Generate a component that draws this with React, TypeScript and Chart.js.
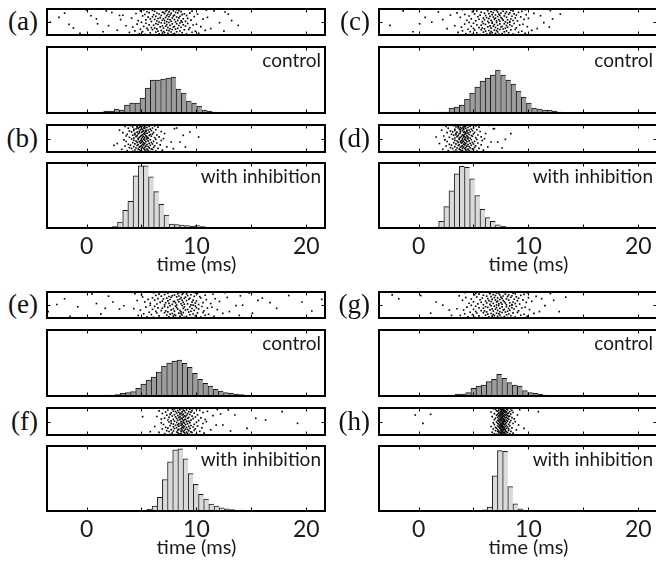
import React, { useEffect, useRef } from "react";
import { Chart, registerables } from "chart.js";
Chart.register(...registerables);

// ---------- axes ----------
const X_MIN = -3.6;
const X_MAX = 21.7;
const MINOR_TICKS = [0, 5, 10, 15, 20];
const TICK_LABELS = [0, 10, 20];
const X_TITLE = "time (ms)";
const BIN_WIDTH = 0.47;
const HIST_MAX = 66;
const RASTER_MAX = 162;

// ---------- histograms (left edge of first bin, bin heights) ----------
const HIST_A_START = -3.13;
const HIST_A = [0.5, 0.5, 0.5, 0, 0.5, 0.5, 0.5, 0, 0.5, 1, 2, 2, 4, 3, 8, 10, 10, 15, 25, 33, 33, 34, 35, 36, 24, 20, 12, 10, 7, 3, 2, 1, 0.5, 0, 0, 0.5, 0.5, 0, 0, 0.5, 0.5];
const HIST_B_START = 1.88;
const HIST_B = [0.5, 1.5, 6, 18, 27, 53, 63, 63, 52, 37, 24, 13, 4, 3.5, 3, 2.5, 2, 2.5, 1.5, 1, 0.5, 0.5, 0.3];
const HIST_C_START = 0.89;
const HIST_C = [0.5, 0.5, 1, 1, 5, 6, 8, 14, 20, 26, 32, 35, 38, 43, 38, 33, 29, 22, 16, 10, 5, 4, 3, 3, 2, 1, 0.5, 0.5, 0.5];
const HIST_D_START = 1.36;
const HIST_D = [1, 6.7, 21.7, 37.7, 55, 62.7, 61.7, 50, 33, 19, 10.7, 6.7, 3.3, 1.7, 1, 0.5];
const HIST_E_START = 0.24;
const HIST_E = [0.5, 0.5, 0.5, 1, 1, 1.5, 2.7, 3.3, 4.3, 7.7, 12, 16, 19, 24, 30, 33, 35, 36, 32.7, 28.7, 22.7, 16.7, 12.7, 10, 6.7, 5, 3.3, 2.7, 2, 1.5, 1, 1, 0.5, 0.5, 0.5];
const HIST_F_START = 5.49;
const HIST_F = [1.7, 5, 14, 32, 50, 62, 63, 53, 38, 27, 17, 12, 7, 5, 3.3, 2.3, 1.5, 1, 1, 0.7, 0.5, 0.5, 0.5];
const HIST_G_START = -1.35;
const HIST_G = [0.5, 0.5, 0, 0.5, 0.5, 0.5, 0.5, 0.5, 1, 1, 2, 2, 3.3, 7.7, 10, 11, 14.3, 16.7, 21.7, 17.7, 13.3, 11, 10, 5.3, 3.3, 2.7, 1.7, 1, 0.5, 0.5, 0, 0.5, 0.5, 0.5];
const HIST_H_START = 5.77;
const HIST_H = [1.3, 4, 35.7, 61.3, 60.7, 24.7, 7.3, 2.3, 0.7];

// ---------- rasters: spike time per trial (trial = index + 1), plus stray spikes [time, trial] ----------
const RASTER_A = [7.2, 6.1, 8.4, 5.3, 7.9, 9.1, 6.6, 4.8, 8.0, 7.4, 10.2, 6.9, 5.8, 8.7, 7.1, 3.9, 9.6, 6.3, 7.7, 8.2, 5.1, 7.0, 9.9, 6.5, 8.5, 4.4, 7.5, 6.8, 10.8, 7.3, 5.6, 8.9, 6.0, 7.8, 9.3, 4.9, 8.1, 6.4, 7.6, 11.3, 5.5, 8.3, 7.0, 6.2, 9.4, 5.9, 7.4, 8.6, 4.2, 7.9, 6.7, 10.4, 8.0, 5.2, 7.2, 9.0, 6.9, 3.6, 8.4, 7.6, 6.1, 9.7, 5.7, 8.8, 7.3, 6.5, 10.0, 4.6, 7.8, 8.2, 6.3, 9.2, 5.4, 7.1, 8.5, 6.8, 12.1, 7.5, 5.0, 8.7,
  6.6, 8.1, 7.3, 5.9, 9.0, 7.7, 6.4, 8.6, 4.7, 7.1, 8.3, 6.9, 9.5, 5.4, 7.6, 8.0, 6.2, 7.4, 10.6, 5.8, 8.8, 7.0, 6.5, 9.2, 4.1, 7.8, 8.4, 6.7, 7.2, 11.0, 5.6, 8.2, 6.0, 7.5, 9.8, 6.3, 8.5, 7.9, 5.1, 7.3, 9.1, 6.8, 3.3, 8.0, 7.6, 6.1, 8.7, 5.3, 7.4, 10.1, 6.6, 8.9, 7.1, 4.5, 7.7, 9.4, 6.4, 8.3, 5.7, 7.0, 8.1, 6.9, 12.6, 7.5, 5.5, 8.6, 7.2, 6.2, 9.6, 4.9, 7.9, 8.4, 6.0, 7.3, 10.9, 5.2, 8.2, 7.6, 6.7, 9.3];
const EXTRA_A = [[-3.3, 80], [-1.2, 44], [0.4, 120], [1.5, 20], [2.3, 140], [-2.5, 110], [1.0, 70], [2.8, 30], [12.9, 130], [13.8, 60], [11.6, 150], [3.1, 96], [0.0, 156], [-0.6, 10], [12.5, 24], [-2.0, 136], [0.9, 100], [2.0, 58], [1.8, 150], [13.2, 90], [3.0, 122], [-1.6, 66]];
const RASTER_B = [5.1, 4.6, 5.8, 4.2, 5.4, 6.3, 4.9, 3.7, 5.6, 5.0, 6.9, 4.4, 5.3, 4.8, 6.0, 3.2, 5.5, 4.7, 5.9, 5.2, 4.1, 6.5, 5.0, 4.5, 5.7, 3.9, 5.3, 6.1, 4.8, 5.1, 7.3, 4.3, 5.6, 4.9, 5.4, 3.5, 6.2, 5.0, 4.6, 5.8, 4.0, 5.2, 6.7, 4.7, 5.5, 3.8, 5.1, 6.0, 4.4, 5.3, 2.8, 5.7, 4.9, 6.4, 5.2, 4.2, 5.9, 4.6, 5.0, 7.7, 4.8, 5.4, 3.6, 6.1, 5.1, 4.5, 5.6, 4.9, 6.8, 4.3, 5.3, 5.0, 3.4, 5.8, 4.7, 6.3, 5.2, 4.1, 5.5, 7.0,
  5.0, 4.7, 5.6, 4.3, 5.3, 6.2, 4.8, 3.9, 5.5, 5.1, 6.6, 4.5, 5.2, 4.9, 5.9, 3.6, 5.4, 4.6, 5.7, 5.0, 4.2, 6.4, 5.1, 4.4, 5.8, 3.7, 5.3, 6.0, 4.7, 5.2, 7.1, 4.4, 5.5, 4.8, 5.3, 3.3, 6.1, 5.0, 4.6, 5.7, 4.1, 5.1, 6.8, 4.8, 5.4, 3.9, 5.2, 5.9, 4.3, 5.4, 3.0, 5.6, 4.9, 6.3, 5.1, 4.3, 5.8, 4.5, 5.0, 8.0, 4.7, 5.3, 3.8, 6.0, 5.2, 4.6, 5.5, 4.8, 6.5, 4.2, 5.3, 4.9, 3.5, 5.7, 4.6, 6.2, 5.1, 4.0, 5.4, 6.9];
const EXTRA_B = [[8.5, 60], [9.4, 120], [10.2, 90], [7.9, 20], [8.2, 144], [2.5, 40], [9.0, 30], [8.8, 100]];
const RASTER_C = [6.8, 5.6, 7.9, 4.9, 7.3, 8.6, 6.2, 4.3, 7.6, 7.0, 9.7, 6.5, 5.3, 8.2, 6.7, 3.6, 9.1, 5.9, 7.2, 7.8, 4.7, 6.6, 9.4, 6.1, 8.0, 4.0, 7.1, 6.4, 10.3, 6.9, 5.1, 8.4, 5.7, 7.4, 8.8, 4.5, 7.7, 6.0, 7.2, 10.8, 5.0, 7.9, 6.6, 5.8, 8.9, 5.5, 7.0, 8.1, 3.9, 7.5, 6.3, 9.9, 7.6, 4.8, 6.8, 8.5, 6.5, 3.3, 8.0, 7.2, 5.7, 9.2, 5.3, 8.3, 6.9, 6.1, 9.5, 4.2, 7.4, 7.8, 5.9, 8.7, 5.0, 6.7, 8.1, 6.4, 11.4, 7.1, 4.6, 8.3,
  6.7, 7.9, 5.8, 8.3, 6.3, 7.4, 9.0, 5.2, 7.1, 8.6, 6.6, 4.4, 7.7, 6.0, 8.1, 7.3, 9.6, 5.5, 6.9, 8.4, 4.8, 7.6, 6.4, 10.0, 7.0, 5.9, 8.8, 6.2, 7.5, 3.8, 8.0, 6.8, 9.3, 5.4, 7.2, 6.5, 8.5, 4.6, 7.8, 11.1, 6.1, 7.4, 8.9, 5.6, 7.0, 9.8, 6.7, 4.2, 8.2, 7.3, 5.1, 8.7, 6.4, 7.9, 10.5, 6.0, 7.5, 3.5, 8.3, 6.8, 9.1, 5.7, 7.2, 8.0, 4.9, 6.6, 9.4, 7.7, 5.3, 8.6, 6.3, 12.0, 7.1, 5.0, 8.4, 6.9, 9.7, 4.0, 7.6, 6.2];
const EXTRA_C = [[-2.6, 60], [-0.5, 20], [0.6, 110], [1.8, 144], [2.6, 40], [1.2, 80], [12.2, 100], [12.9, 130], [11.9, 50], [2.9, 124], [-1.4, 150], [0.1, 70], [2.2, 96]];
const RASTER_D = [4.1, 3.6, 4.8, 3.2, 4.4, 5.3, 3.9, 2.7, 4.6, 4.0, 5.9, 3.4, 4.3, 3.8, 5.0, 2.2, 4.5, 3.7, 4.9, 4.2, 3.1, 5.5, 4.0, 3.5, 4.7, 2.9, 4.3, 5.1, 3.8, 4.1, 6.3, 3.3, 4.6, 3.9, 4.4, 2.5, 5.2, 4.0, 3.6, 4.8, 3.0, 4.2, 5.7, 3.7, 4.5, 2.8, 4.1, 5.0, 3.4, 4.3, 1.9, 4.7, 3.9, 5.4, 4.2, 3.2, 4.9, 3.6, 4.0, 6.6, 3.8, 4.4, 2.6, 5.1, 4.1, 3.5, 4.6, 3.9, 5.8, 3.3, 4.3, 4.0, 2.4, 4.8, 3.7, 5.3, 4.2, 3.1, 4.5, 6.0,
  4.0, 3.7, 4.7, 3.3, 4.3, 5.2, 3.8, 2.8, 4.5, 4.1, 5.7, 3.5, 4.2, 3.9, 4.9, 2.3, 4.4, 3.6, 4.8, 4.1, 3.2, 5.4, 4.0, 3.4, 4.6, 3.0, 4.2, 5.0, 3.7, 4.3, 6.1, 3.4, 4.5, 3.8, 4.3, 2.6, 5.1, 4.1, 3.5, 4.7, 3.1, 4.2, 5.6, 3.8, 4.4, 2.9, 4.0, 4.9, 3.3, 4.4, 2.1, 4.6, 3.8, 5.3, 4.1, 3.3, 4.8, 3.7, 4.1, 6.8, 3.9, 4.3, 2.7, 5.0, 4.0, 3.6, 4.5, 3.8, 5.5, 3.4, 4.2, 4.1, 2.5, 4.7, 3.6, 5.2, 4.3, 3.2, 4.6, 6.4];
const EXTRA_D = [[7.2, 60], [8.4, 110], [6.9, 140], [7.6, 24], [1.6, 90], [7.9, 76]];
const RASTER_E = [8.3, 7.0, 9.6, 6.1, 8.9, 10.4, 7.5, 5.5, 9.1, 8.5, 11.6, 7.9, 6.6, 9.9, 8.1, 4.7, 10.8, 7.3, 8.7, 9.4, 5.9, 8.0, 11.1, 7.6, 9.7, 5.2, 8.6, 7.8, 12.4, 8.4, 6.4, 10.1, 7.1, 8.8, 10.6, 5.7, 9.3, 7.4, 8.6, 13.0, 6.3, 9.5, 8.0, 7.2, 10.7, 6.8, 8.5, 9.8, 4.9, 9.0, 7.7, 11.9, 9.2, 6.0, 8.3, 10.2, 7.9, 4.3, 9.6, 8.8, 6.9, 11.0, 6.5, 10.0, 8.2, 7.4, 11.4, 5.4, 8.9, 9.4, 7.1, 10.5, 6.2, 8.1, 9.9, 7.6, 13.6, 8.7, 5.8, 9.7,
  8.2, 9.5, 7.1, 10.2, 7.8, 8.9, 6.4, 9.2, 8.6, 11.3, 7.5, 5.8, 9.9, 8.1, 7.2, 10.6, 6.7, 8.8, 9.6, 5.3, 8.4, 7.9, 12.1, 8.0, 6.9, 10.0, 7.4, 9.1, 4.6, 8.7, 9.7, 6.2, 8.3, 10.9, 7.6, 5.6, 9.3, 8.5, 7.0, 11.7, 6.5, 8.9, 9.4, 7.3, 10.4, 6.0, 8.6, 12.8, 7.7, 9.0, 5.1, 8.2, 10.3, 7.5, 9.8, 6.8, 8.4, 14.0, 7.8, 9.2, 6.3, 10.8, 8.0, 5.0, 9.5, 7.1, 8.7, 11.5, 6.6, 9.1, 8.3, 4.4, 10.1, 7.4, 8.8, 9.9, 6.1, 12.6, 8.5, 7.2];
const EXTRA_E = [[-3.5, 40], [-2.0, 120], [-0.8, 70], [0.5, 150], [1.3, 24], [2.4, 100], [3.0, 56], [2.0, 136], [-1.5, 10], [0.9, 90], [14.2, 80], [15.1, 30], [16.0, 124], [17.3, 60], [18.4, 140], [19.6, 100], [20.5, 44], [21.4, 116], [14.8, 156], [13.9, 16], [16.7, 96], [3.4, 76], [-2.7, 84], [1.7, 60], [15.6, 110]];
const RASTER_F = [8.7, 8.1, 9.4, 7.6, 9.0, 10.0, 8.4, 7.1, 9.2, 8.6, 10.7, 7.8, 8.9, 8.3, 9.6, 6.6, 9.1, 8.2, 9.5, 8.8, 7.5, 10.3, 8.6, 7.9, 9.3, 7.3, 8.9, 9.8, 8.3, 8.7, 11.3, 7.7, 9.2, 8.4, 9.0, 6.9, 9.9, 8.6, 8.0, 9.4, 7.4, 8.8, 10.5, 8.2, 9.1, 7.2, 8.7, 9.7, 7.9, 8.9, 6.2, 9.3, 8.4, 10.1, 8.8, 7.6, 9.5, 8.1, 8.6, 11.8, 8.3, 9.0, 7.0, 9.8, 8.7, 7.9, 9.2, 8.4, 10.6, 7.7, 8.9, 8.6, 6.8, 9.4, 8.2, 10.0, 8.8, 7.5, 9.1, 10.9,
  8.6, 9.3, 8.0, 9.1, 7.7, 8.8, 10.2, 8.3, 9.5, 7.4, 8.9, 8.5, 10.8, 7.9, 9.0, 6.8, 8.7, 9.7, 8.2, 9.2, 7.1, 8.6, 10.4, 8.4, 9.3, 7.5, 8.8, 9.9, 8.1, 9.0, 6.4, 8.5, 9.6, 7.8, 8.9, 11.5, 8.3, 9.1, 7.3, 8.7, 10.1, 8.0, 9.4, 7.6, 8.8, 12.2, 8.5, 9.2, 6.9, 8.6, 9.8, 8.2, 7.7, 9.0, 10.6, 8.4, 9.5, 7.2, 8.7, 9.3, 8.1, 11.0, 7.9, 8.9, 6.6, 9.6, 8.3, 10.3, 8.8, 7.4, 9.1, 8.5, 11.9, 7.8, 9.4, 8.0, 10.0, 8.6, 7.0, 9.7];
const EXTRA_F = [[12.4, 60], [13.5, 120], [14.6, 40], [16.3, 90], [17.8, 140], [19.2, 70], [12.9, 150], [5.8, 20], [5.1, 110], [13.1, 24], [15.4, 100]];
const RASTER_G = [7.0, 5.8, 8.1, 5.1, 7.5, 8.8, 6.4, 4.5, 7.8, 7.2, 9.9, 6.7, 5.5, 8.4, 6.9, 3.8, 9.3, 6.1, 7.4, 8.0, 4.9, 6.8, 9.6, 6.3, 8.2, 4.2, 7.3, 6.6, 10.5, 7.1, 5.3, 8.6, 5.9, 7.6, 9.0, 4.7, 7.9, 6.2, 7.4, 11.0, 5.2, 8.1, 6.8, 6.0, 9.1, 5.7, 7.2, 8.3, 4.1, 7.7, 6.5, 10.1, 7.8, 5.0, 7.0, 8.7, 6.7, 3.5, 8.2, 7.4, 5.9, 9.4, 5.5, 8.5, 7.1, 6.3, 9.7, 4.4, 7.6, 8.0, 6.1, 8.9, 5.2, 6.9, 8.3, 6.6, 11.5, 7.3, 4.8, 8.5,
  7.1, 8.0, 5.9, 8.5, 6.5, 7.6, 9.2, 5.4, 7.3, 8.8, 6.8, 4.6, 7.9, 6.2, 8.3, 7.5, 9.8, 5.7, 7.1, 8.6, 5.0, 7.8, 6.6, 10.3, 7.2, 6.1, 9.0, 6.4, 7.7, 4.0, 8.2, 7.0, 9.5, 5.6, 7.4, 6.7, 8.7, 4.8, 8.0, 11.2, 6.3, 7.6, 9.1, 5.8, 7.2, 10.0, 6.9, 4.3, 8.4, 7.5, 5.3, 8.9, 6.6, 8.1, 10.7, 6.2, 7.7, 3.7, 8.5, 7.0, 9.3, 5.9, 7.4, 8.2, 5.1, 6.8, 9.6, 7.9, 5.5, 8.8, 6.5, 12.0, 7.3, 5.2, 8.6, 7.1, 9.9, 4.2, 7.8, 6.4];
const EXTRA_G = [[-2.4, 144], [-1.8, 120], [0.2, 140], [1.1, 30], [2.2, 80], [2.8, 50], [12.3, 110], [13.4, 130], [12.8, 40], [3.0, 16], [1.6, 100]];
const RASTER_H = [7.7, 7.4, 8.0, 7.1, 7.8, 8.3, 7.5, 6.9, 7.9, 7.6, 8.6, 7.3, 7.7, 7.5, 8.1, 6.7, 7.8, 7.4, 8.0, 7.6, 7.2, 8.4, 7.6, 7.3, 7.9, 7.0, 7.7, 8.2, 7.5, 7.7, 8.9, 7.2, 7.9, 7.5, 7.8, 6.8, 8.2, 7.6, 7.4, 8.0, 7.1, 7.7, 8.5, 7.4, 7.8, 7.0, 7.6, 8.1, 7.3, 7.7, 6.6, 7.9, 7.5, 8.3, 7.6, 7.2, 8.0, 7.4, 7.6, 9.1, 7.5, 7.8, 6.9, 8.2, 7.7, 7.3, 7.9, 7.5, 8.6, 7.2, 7.7, 7.6, 6.8, 8.0, 7.4, 8.3, 7.7, 7.1, 7.8, 8.8,
  7.6, 7.9, 7.3, 8.1, 7.5, 7.8, 8.4, 7.2, 7.7, 8.0, 7.4, 6.9, 7.8, 7.5, 8.2, 7.6, 8.7, 7.3, 7.7, 8.1, 7.0, 7.9, 7.5, 8.5, 7.6, 7.2, 8.0, 7.4, 7.8, 6.7, 8.2, 7.6, 8.3, 7.3, 7.7, 7.5, 8.1, 7.1, 7.9, 9.0, 7.4, 7.8, 8.0, 7.2, 7.6, 8.4, 7.5, 6.9, 8.1, 7.7, 7.3, 8.2, 7.6, 7.9, 8.6, 7.4, 7.8, 6.6, 8.0, 7.5, 8.3, 7.2, 7.7, 7.9, 7.1, 7.6, 8.5, 7.8, 7.3, 8.1, 7.5, 9.2, 7.7, 7.0, 8.0, 7.6, 8.4, 6.8, 7.8, 7.4];
const EXTRA_H = [[-0.3, 120], [0.4, 70], [1.1, 124], [10.9, 140], [9.6, 40]];

const CONTROL_LABEL = "control";
const INHIB_LABEL = "with inhibition";

// ---------- layout ----------
const BOX_W = 278;
const PAD = 4;
const AXIS_SPACE = 48;
const ROWS = [
  { y: 0, h: 26 },
  { y: 38, h: 66 },
  { y: 116, h: 27 },
  { y: 154, h: 65 },
];

type GroupSpec = {
  left: number;
  top: number;
  letters: [string, string];
  rasters: number[][];
  extras: number[][][];
  hists: { start: number; values: number[] }[];
};

const GROUPS: GroupSpec[] = [
  { left: 47, top: 9, letters: ["(a)", "(b)"], rasters: [RASTER_A, RASTER_B], extras: [EXTRA_A, EXTRA_B],
    hists: [{ start: HIST_A_START, values: HIST_A }, { start: HIST_B_START, values: HIST_B }] },
  { left: 379, top: 9, letters: ["(c)", "(d)"], rasters: [RASTER_C, RASTER_D], extras: [EXTRA_C, EXTRA_D],
    hists: [{ start: HIST_C_START, values: HIST_C }, { start: HIST_D_START, values: HIST_D }] },
  { left: 47, top: 292, letters: ["(e)", "(f)"], rasters: [RASTER_E, RASTER_F], extras: [EXTRA_E, EXTRA_F],
    hists: [{ start: HIST_E_START, values: HIST_E }, { start: HIST_F_START, values: HIST_F }] },
  { left: 379, top: 292, letters: ["(g)", "(h)"], rasters: [RASTER_G, RASTER_H], extras: [EXTRA_G, EXTRA_H],
    hists: [{ start: HIST_G_START, values: HIST_G }, { start: HIST_H_START, values: HIST_H }] },
];

const TEXT_FONT = "19px Lato";
const TITLE_FONT = "20px Lato";
const TICK_FONT = "23px Lato";

const framePlugin = {
  id: "frame",
  afterDraw(chart: any, _args: any, opts: any) {
    const { ctx, chartArea: a } = chart;
    const x = chart.scales.x;
    ctx.save();
    ctx.strokeStyle = "#000";
    ctx.lineWidth = 1;
    MINOR_TICKS.forEach((v) => {
      const px = Math.round(x.getPixelForValue(v)) + 0.5;
      ctx.beginPath();
      ctx.moveTo(px, a.top);
      ctx.lineTo(px, a.top + 3.5);
      ctx.moveTo(px, a.bottom);
      ctx.lineTo(px, a.bottom - 3.5);
      ctx.stroke();
    });
    if (opts.yTick) {
      const py = Math.round((a.top + a.bottom) / 2) + 0.5;
      ctx.beginPath();
      ctx.moveTo(a.left, py);
      ctx.lineTo(a.left + 3.5, py);
      ctx.moveTo(a.right, py);
      ctx.lineTo(a.right - 3.5, py);
      ctx.stroke();
    }
    ctx.lineWidth = 2;
    ctx.strokeRect(a.left, a.top, a.right - a.left, a.bottom - a.top);
    ctx.fillStyle = "#1a1a1a";
    ctx.textBaseline = "middle";
    if (opts.label) {
      ctx.font = TEXT_FONT;
      ctx.textAlign = "right";
      ctx.fillText(opts.label, a.right - 4, a.top + 14);
    }
    if (opts.axis) {
      ctx.textAlign = "center";
      ctx.font = TICK_FONT;
      TICK_LABELS.forEach((v) => ctx.fillText(String(v), x.getPixelForValue(v), a.bottom + 19));
      ctx.font = TITLE_FONT;
      ctx.fillText(X_TITLE, x.getPixelForValue(10), a.bottom + 37);
    }
    ctx.restore();
  },
};

function Panel(props: {
  left: number; top: number; h: number; kind: "raster" | "hist";
  raster?: number[]; extra?: number[][]; hist?: { start: number; values: number[] };
  label?: string; axis?: boolean; light?: boolean;
}) {
  const ref = useRef<HTMLCanvasElement>(null);
  const cw = BOX_W + 2 * PAD;
  const ch = props.h + 2 * PAD + (props.axis ? AXIS_SPACE : 0);
  useEffect(() => {
    const isRaster = props.kind === "raster";
    const data = isRaster
      ? props.raster!.map((t, i) => ({ x: t, y: i + 1 })).concat(props.extra!.map(([t, y]) => ({ x: t, y })))
      : props.hist!.values.map((v, i) => ({ x: props.hist!.start + (i + 0.5) * BIN_WIDTH, y: v }));
    const chart = new Chart(ref.current!, {
      type: isRaster ? "scatter" : "bar",
      data: {
        datasets: [
          isRaster
            ? { data, pointStyle: "rect", pointRadius: 1.15, pointBackgroundColor: "#000", pointBorderWidth: 0 }
            : {
                data,
                backgroundColor: props.light ? "#dadada" : "#9c9c9c",
                borderColor: "#1a1a1a",
                borderWidth: { left: 1, top: 1, right: 0, bottom: 0 },
                borderSkipped: false,
                barPercentage: 1,
                categoryPercentage: 1,
              },
        ] as any,
      },
      options: {
        animation: false,
        responsive: false,
        events: [],
        layout: { padding: { left: PAD, right: PAD, top: PAD, bottom: PAD + (props.axis ? AXIS_SPACE : 0) } },
        scales: {
          x: { type: "linear", min: X_MIN, max: X_MAX, display: false, offset: false },
          y: { type: "linear", min: 0, max: isRaster ? RASTER_MAX : HIST_MAX, display: false },
        },
        plugins: {
          legend: { display: false },
          tooltip: { enabled: false },
          frame: { yTick: isRaster, label: props.label, axis: props.axis },
        } as any,
      },
      plugins: [framePlugin],
    } as any);
    return () => chart.destroy();
  }, []);
  return (
    <canvas
      ref={ref}
      width={cw}
      height={ch}
      style={{ position: "absolute", left: props.left - PAD, top: props.top - PAD, width: cw, height: ch }}
    />
  );
}

export default function App() {
  return (
    <div style={{ position: "fixed", left: 0, top: 0, width: 656, height: 563, overflow: "hidden", background: "#fff" }}>
      {GROUPS.map((g, gi) => (
        <React.Fragment key={gi}>
          {[0, 1].map((k) => {
            const rRow = ROWS[k * 2];
            const hRow = ROWS[k * 2 + 1];
            return (
              <React.Fragment key={k}>
                <div
                  style={{
                    position: "absolute",
                    left: g.left - 64,
                    width: 55,
                    top: g.top + rRow.y + rRow.h / 2 - 17,
                    height: 32,
                    lineHeight: "32px",
                    textAlign: "right",
                    fontFamily: "'Liberation Serif', serif",
                    fontSize: 27,
                    color: "#111",
                  }}
                >
                  {g.letters[k]}
                </div>
                <Panel left={g.left} top={g.top + rRow.y} h={rRow.h} kind="raster" raster={g.rasters[k]} extra={g.extras[k]} />
                <Panel
                  left={g.left}
                  top={g.top + hRow.y}
                  h={hRow.h}
                  kind="hist"
                  hist={g.hists[k]}
                  label={k === 0 ? CONTROL_LABEL : INHIB_LABEL}
                  axis={k === 1}
                  light={k === 1}
                />
              </React.Fragment>
            );
          })}
        </React.Fragment>
      ))}
    </div>
  );
}
